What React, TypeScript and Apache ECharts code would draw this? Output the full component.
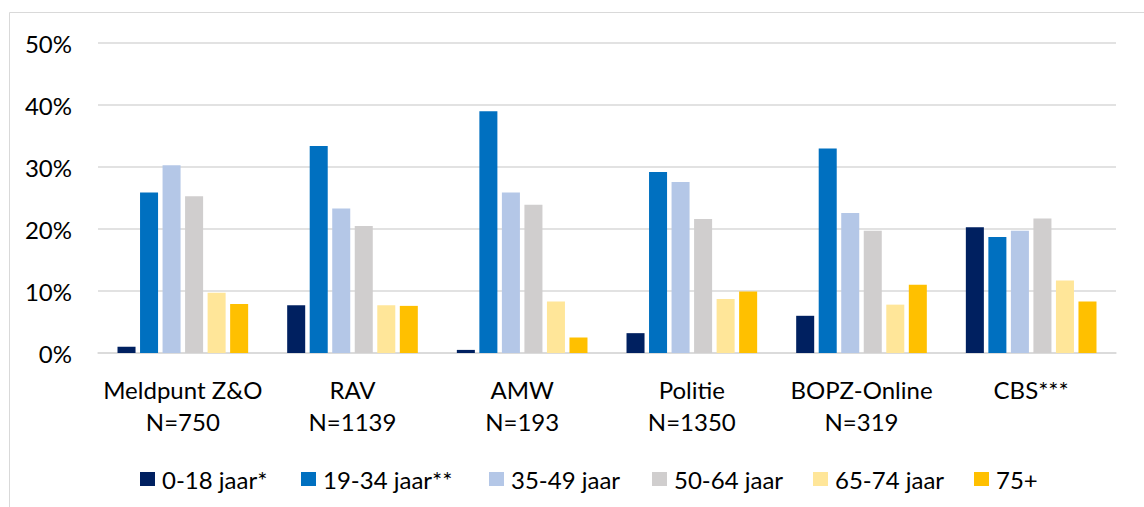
import React, { useEffect, useRef } from "react";
import * as echarts from "echarts";

const categories = [
  "Meldpunt Z&O\nN=750",
  "RAV\nN=1139",
  "AMW\nN=193",
  "Politie\nN=1350",
  "BOPZ-Online\nN=319",
  "CBS***",
];
const seriesNames = ["0-18 jaar*", "19-34 jaar**", "35-49 jaar", "50-64 jaar", "65-74 jaar", "75+"];
const age0_18 = [1.0, 7.7, 0.5, 3.2, 6.0, 20.3];
const age19_34 = [25.9, 33.4, 39.0, 29.2, 33.0, 18.7];
const age35_49 = [30.3, 23.3, 25.9, 27.6, 22.6, 19.7];
const age50_64 = [25.3, 20.5, 23.9, 21.6, 19.7, 21.7];
const age65_74 = [9.7, 7.7, 8.3, 8.7, 7.8, 11.7];
const age75plus = [7.9, 7.6, 2.5, 9.9, 11.0, 8.3];
const colors = ["#002060", "#0070C0", "#B4C7E7", "#D0CECE", "#FFE699", "#FFC000"];

const FONT = "Lato";
const FS = 24;
const legendLefts = [135, 296, 484, 647, 808, 969];

export default function App() {
  const ref = useRef<HTMLDivElement>(null);
  useEffect(() => {
    document.body.style.margin = "0";
    const chart = echarts.init(ref.current!, undefined, { renderer: "svg" });
    const values = [age0_18, age19_34, age35_49, age50_64, age65_74, age75plus];
    chart.setOption({
      animation: false,
      textStyle: { fontFamily: FONT },
      graphic: [
        {
          type: "rect",
          shape: { x: 9.5, y: 12.5, width: 1200, height: 600 },
          style: { fill: "none", stroke: "#D9D9D9", lineWidth: 1 },
          silent: true,
        },
      ],
      grid: { left: 98, right: 28, top: 43, bottom: 154 },
      legend: seriesNames.map((name, i) => ({
        left: legendLefts[i],
        top: 462,
        itemWidth: 15,
        itemHeight: 14,
        icon: "rect",
        textStyle: { fontFamily: FONT, fontSize: FS, color: "#000", padding: [0, 0, 0, 2] },
        data: [name],
      })),
      xAxis: {
        type: "category",
        data: categories,
        axisLine: { lineStyle: { color: "#D9D9D9", width: 1.5 } },
        axisTick: { show: false },
        axisLabel: {
          fontFamily: FONT,
          fontSize: FS,
          color: "#000",
          lineHeight: 32,
          margin: 20,
          interval: 0,
        },
      },
      yAxis: {
        type: "value",
        min: 0,
        max: 50,
        interval: 10,
        axisLine: { show: false },
        axisTick: { show: false },
        splitLine: { lineStyle: { color: "#D9D9D9", width: 1.5 } },
        axisLabel: {
          formatter: "{value}%",
          fontFamily: FONT,
          fontSize: FS,
          color: "#000",
          margin: 26,
        },
      },
      series: seriesNames.map((name, i) => ({
        name,
        type: "bar",
        data: values[i],
        barGap: "25%",
        barCategoryGap: "23%",
        itemStyle: { color: colors[i] },
      })),
    });
    return () => chart.dispose();
  }, []);
  return <div ref={ref} style={{ width: 1144, height: 507 }} />;
}
